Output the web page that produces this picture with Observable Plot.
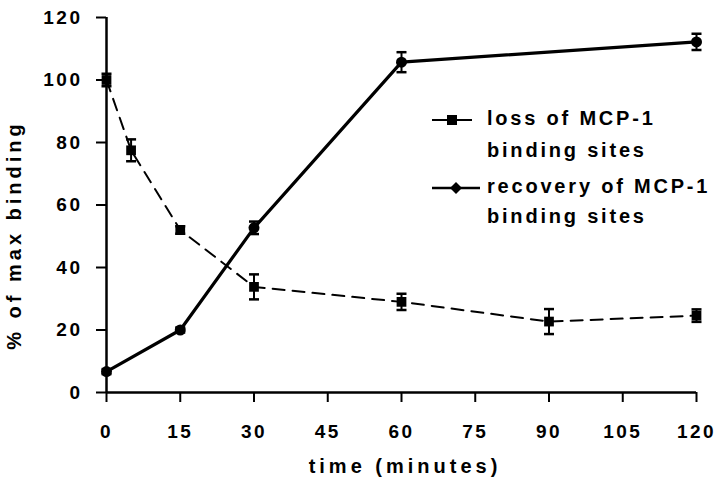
<!DOCTYPE html>
<html>
<head>
<meta charset="utf-8">
<script src="https://cdn.jsdelivr.net/npm/d3@7"></script>
<script src="https://cdn.jsdelivr.net/npm/@observablehq/plot@0.6"></script>
<style>
  html, body { margin: 0; padding: 0; background: #fff; }
  svg { font-family: "Liberation Sans", Arial, sans-serif; font-weight: bold; }
</style>
</head>
<body>
<div id="chart"></div>
<script>
// ---- data ----
const lossTimes = [0, 5, 15, 30, 60, 90, 120];
const lossValues = [100, 77.5, 52, 33.8, 29, 22.7, 24.6];
const lossErrors = [2, 3.5, 1.2, 4, 2.6, 4, 2];

const recTimes = [0, 15, 30, 60, 120];
const recValues = [6.7, 20, 52.7, 105.7, 112.2];
const recErrors = [0.8, 0.8, 2, 3.2, 2.6];

const xTicks = [0, 15, 30, 45, 60, 75, 90, 105, 120];
const yTicks = [0, 20, 40, 60, 80, 100, 120];

const seriesNames = ["loss of MCP-1|binding sites", "recovery of MCP-1|binding sites"];
const xLabel = "time (minutes)";
const yLabel = "% of max binding";

const loss = lossTimes.map((t, i) => ({t, v: lossValues[i], e: lossErrors[i]}));
const rec = recTimes.map((t, i) => ({t, v: recValues[i], e: recErrors[i]}));

const cap = {
  draw(context, size) {
    const w = Math.sqrt(size / Math.PI);
    context.moveTo(-w, 0);
    context.lineTo(w, 0);
  }
};

const plot = Plot.plot({
  width: 720,
  height: 484,
  marginLeft: 106,
  marginRight: 24,
  marginTop: 17,
  marginBottom: 92,
  x: {domain: [0, 120]},
  y: {domain: [0, 120]},
  style: {fontFamily: "Liberation Sans, Arial, sans-serif", fontSize: "18px", fontWeight: "bold", color: "#000", background: "#fff", overflow: "visible"},
  marks: [
    Plot.axisX({ticks: xTicks, tickSize: 10, tickPadding: 22, tickFormat: d => d, label: null, strokeWidth: 2, fontSize: 19}),
    Plot.axisY({ticks: yTicks, tickSize: 10, tickPadding: 14, tickFormat: d => d, label: null, strokeWidth: 2, fontSize: 19}),
    Plot.ruleY([0], {strokeWidth: 2.5}),
    Plot.ruleX([0], {strokeWidth: 2.5}),
    // loss series
    Plot.line(loss, {x: "t", y: "v", stroke: "black", strokeWidth: 2, strokeDasharray: "12,8"}),
    Plot.ruleX(loss, {x: "t", y1: d => d.v - d.e, y2: d => d.v + d.e, strokeWidth: 2}),
    Plot.dot(loss, {x: "t", y: d => d.v - d.e, symbol: cap, r: 5, stroke: "black", strokeWidth: 2.5}),
    Plot.dot(loss, {x: "t", y: d => d.v + d.e, symbol: cap, r: 5, stroke: "black", strokeWidth: 2.5}),
    Plot.dot(loss, {x: "t", y: "v", symbol: "square", r: 5.5, fill: "black"}),
    // recovery series
    Plot.line(rec, {x: "t", y: "v", stroke: "black", strokeWidth: 3.2}),
    Plot.ruleX(rec, {x: "t", y1: d => d.v - d.e, y2: d => d.v + d.e, strokeWidth: 2}),
    Plot.dot(rec, {x: "t", y: d => d.v - d.e, symbol: cap, r: 5, stroke: "black", strokeWidth: 2.5}),
    Plot.dot(rec, {x: "t", y: d => d.v + d.e, symbol: cap, r: 5, stroke: "black", strokeWidth: 2.5}),
    Plot.dot(rec, {x: "t", y: "v", symbol: "circle", r: 5.5, fill: "black"})
  ]
});

const svg = d3.select(plot);
svg.selectAll("g[aria-label='x-axis tick label'] text, g[aria-label='y-axis tick label'] text")
  .style("letter-spacing", "2.5px");

// axis titles
svg.append("text")
  .attr("x", 405).attr("y", 468)
  .attr("text-anchor", "middle").attr("dominant-baseline", "middle")
  .style("font-size", "20px").style("letter-spacing", "4px")
  .text(xLabel);
svg.append("text")
  .attr("transform", "translate(16,235) rotate(-90)")
  .attr("text-anchor", "middle").attr("dominant-baseline", "middle")
  .style("font-size", "20px").style("letter-spacing", "4px")
  .text(yLabel);

// legend
const lg = svg.append("g");
const rows = [[120, 152], [188, 218]];
seriesNames.forEach((name, i) => {
  const [y1, y2] = rows[i];
  const parts = name.split("|");
  if (i === 0) {
    lg.append("line").attr("x1", 432).attr("x2", 472).attr("y1", y1).attr("y2", y1)
      .attr("stroke", "black").attr("stroke-width", 2);
    lg.append("rect").attr("x", 447).attr("y", y1 - 5).attr("width", 10).attr("height", 10).attr("fill", "black");
  } else {
    lg.append("line").attr("x1", 432).attr("x2", 480).attr("y1", y1).attr("y2", y1)
      .attr("stroke", "black").attr("stroke-width", 2.5);
    lg.append("path").attr("d", `M456,${y1 - 6}L462,${y1}L456,${y1 + 6}L450,${y1}Z`).attr("fill", "black");
  }
  [y1, y2].forEach((yy, j) => {
    lg.append("text").attr("x", 487).attr("y", yy)
      .attr("text-anchor", "start")
      .attr("dominant-baseline", "middle")
      .style("font-size", "20px").style("letter-spacing", "2.8px")
      .text(parts[j]);
  });
});

document.getElementById("chart").appendChild(plot);
</script>
</body>
</html>
